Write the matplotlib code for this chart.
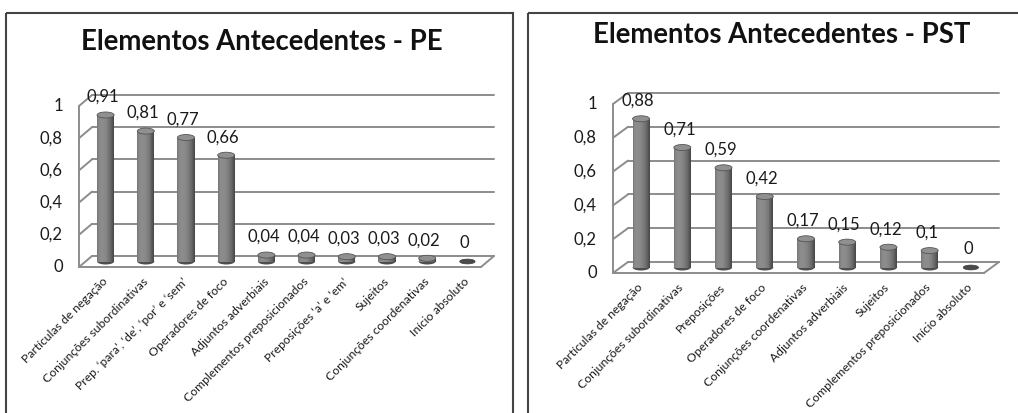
import numpy as np
import matplotlib
matplotlib.use("Agg")
import matplotlib.pyplot as plt
from matplotlib.transforms import ScaledTranslation
from matplotlib.patches import Ellipse
from matplotlib.lines import Line2D

plt.rcParams['font.family'] = ['Lato', 'DejaVu Sans']

# ---- data -------------------------------------------------------------
pe_categories = [
    "Partículas de negação", "Conjunções subordinativas",
    "Prep. ‘para’, ‘de’, ‘por’ e ‘sem’", "Operadores de foco",
    "Adjuntos adverbiais", "Complementos preposicionados",
    "Preposições ‘a’ e ‘em’", "Sujeitos", "Conjunções coordenativas",
    "Início absoluto",
]
pe_values = [0.91, 0.81, 0.77, 0.66, 0.04, 0.04, 0.03, 0.03, 0.02, 0]

pst_categories = [
    "Partículas de negação", "Conjunções subordinativas", "Preposições",
    "Operadores de foco", "Conjunções coordenativas", "Adjuntos adverbiais",
    "Sujeitos", "Complementos preposicionados", "Início absoluto",
]
pst_values = [0.88, 0.71, 0.59, 0.42, 0.17, 0.15, 0.12, 0.1, 0]

y_ticks = [0, 0.2, 0.4, 0.6, 0.8, 1]
y_tick_labels = ["0", "0,2", "0,4", "0,6", "0,8", "1"]
titles = ["Elementos Antecedentes - PE", "Elementos Antecedentes - PST"]

# ---- figure -----------------------------------------------------------
DPI = 100
W, H = 1018, 413
fig = plt.figure(figsize=(W / DPI, H / DPI), dpi=DPI)
fig.patch.set_facecolor("white")

GRID = "#8c8c8c"
FRAME = "#444444"


def px(dx, dy):
    """Offset in screen pixels (y up)."""
    return ScaledTranslation(dx / DPI, dy / DPI, fig.dpi_scale_trans)


def fmt(v):
    return f"{v:g}".replace(".", ",")


def panel_frame(x0, x1, top):
    kw = dict(transform=fig.transFigure, color=FRAME, lw=1.5,
              solid_capstyle="butt")
    fig.add_artist(Line2D([x0 / W, x0 / W], [0, 1 - top / H], **kw))
    fig.add_artist(Line2D([x0 / W, x1 / W], [1 - top / H, 1 - top / H], **kw))


def cylinder(ax, x, v, w, tr, eh):
    if v > 0:
        n = 18
        edges = np.linspace(-w / 2, w / 2, n + 1)
        for a, b in zip(edges[:-1], edges[1:]):
            t = (a + b) / w
            theta = np.arcsin(np.clip(t, -1, 1))
            g = 0.29 + 0.26 * max(np.cos(theta + 0.45), 0.0)
            ax.bar(x + (a + b) / 2, v, width=(b - a) * 1.08, bottom=0,
                   color=(g, g, g), linewidth=0, transform=tr,
                   zorder=3, clip_on=False)
        ax.add_patch(Ellipse((x, 0), w, eh, facecolor="#4e4e4e",
                             edgecolor="none", transform=tr, zorder=2.9,
                             clip_on=False))
        ax.add_patch(Ellipse((x, v), w, eh, facecolor="#909090",
                             edgecolor="#555555", lw=0.6, transform=tr,
                             zorder=3.2, clip_on=False))
    else:
        ax.add_patch(Ellipse((x, 0), w * 0.9, eh * 0.8, facecolor="#4a4a4a",
                             edgecolor="#3a3a3a", lw=0.5, transform=tr,
                             zorder=3.2, clip_on=False))


def draw_panel(cats, values, title, front, depth, frame, title_pos):
    # front: (x_left, x_right, y_bottom, y_top) of the front plane in px
    xl, xr, yb, yt = front
    dx, dy = depth
    n = len(cats)
    ax = fig.add_axes([xl / W, 1 - yb / H, (xr - xl) / W, (yb - yt) / H])
    ax.set_xlim(-0.5, n - 0.5)
    ax.set_ylim(0, 1)
    ax.set_axis_off()

    back = ax.transData + px(dx, dy)
    mid = ax.transData + px(dx / 2, dy / 2)
    inv = ax.transData.inverted()
    lkw = dict(color=GRID, lw=1.4, clip_on=False, zorder=1,
               solid_capstyle="round")

    # back wall gridlines and side-wall diagonals
    for t in y_ticks:
        ax.plot([-0.5, n - 0.5], [t, t], transform=back, **lkw)
        p = inv.transform(np.array([ax.transData.transform((-0.5, t)),
                                    back.transform((-0.5, t))]))
        ax.plot(p[:, 0], p[:, 1], **lkw)
    # front vertical edge of the side wall
    ax.plot([-0.5, -0.5], [0, 1], **lkw)
    # floor: front edge and right diagonal
    ax.plot([-0.5, n - 0.5], [0, 0], **lkw)
    p = inv.transform(np.array([ax.transData.transform((n - 0.5, 0)),
                                back.transform((n - 0.5, 0))]))
    ax.plot(p[:, 0], p[:, 1], **lkw)

    # cylinders
    ppu_y = (yb - yt)
    ppu_x = (xr - xl) / n
    w = 17 / ppu_x
    eh = 6 / ppu_y
    for i, v in enumerate(values):
        cylinder(ax, i, v, w, mid, eh)

    # value labels
    lab_tr = ax.transData + px(dx / 2 - 3, dy / 2 + 18)
    for i, v in enumerate(values):
        ax.text(i, v, fmt(v), transform=lab_tr, ha="center", va="center",
                fontsize=12, color="#1a1a1a", zorder=5)

    # y tick labels
    tick_tr = ax.transData + px(-16, 0)
    for t, lab in zip(y_ticks, y_tick_labels):
        ax.text(-0.5, t, lab, transform=tick_tr, ha="right", va="center",
                fontsize=12, color="#1a1a1a")

    # category labels
    cat_tr = ax.transData + px(3, -9)
    for i, c in enumerate(cats):
        ax.text(i, 0, c, transform=cat_tr, rotation=45, ha="right",
                va="top", rotation_mode="anchor", fontsize=8.7,
                color="#1a1a1a")

    panel_frame(*frame)
    fig.text(title_pos[0] / W, 1 - title_pos[1] / H, title, ha="center",
             va="baseline", fontsize=19.8, fontweight="bold",
             color="#111111")


draw_panel(pe_categories, pe_values, titles[0],
           front=(79, 481, 267, 106), depth=(13, 11),
           frame=(6, 513, 13), title_pos=(262, 50))
fig.add_artist(Line2D([513 / W, 513 / W], [0, 1 - 13 / H],
                      transform=fig.transFigure, color=FRAME, lw=1.5))
draw_panel(pst_categories, pst_values, titles[1],
           front=(613, 984, 273, 104), depth=(15, 11),
           frame=(528, W, 13), title_pos=(782, 43))

fig.savefig("out.png", dpi=DPI, facecolor="white")
